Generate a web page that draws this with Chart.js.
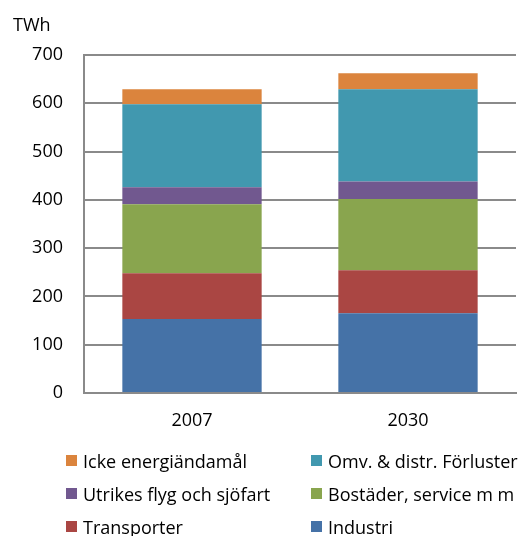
<!DOCTYPE html>
<html>
<head>
<meta charset="utf-8">
<script src="https://cdn.jsdelivr.net/npm/chart.js@4"></script>
<style>
  html, body { margin: 0; padding: 0; background: #fff; }
  body { width: 532px; height: 536px; position: relative; overflow: hidden; font-family: "Open Sans", sans-serif; color: #000; }
  #wrap { position: absolute; left: 0; top: 0; width: 532px; height: 536px; }
  #unit { position: absolute; left: 13px; top: 12px; font-size: 18px; }
  #legend { position: absolute; left: 66px; top: 448px; display: grid; grid-template-columns: 245px 230px; row-gap: 8px; font-size: 18px; }
  #legend div { display: flex; align-items: center; height: 25px; white-space: nowrap; }
  #legend span.box { display: inline-block; width: 11px; height: 11px; margin-right: 6px; }
</style>
</head>
<body>
<div id="wrap"><canvas id="myChart" width="532" height="536"></canvas></div>
<div id="unit">TWh</div>
<div id="legend"></div>
<script>
const years = ["2007", "2030"];
const industri = [153, 165];
const transporter = [95, 89];
const bostader = [143, 148];
const utrikes = [35, 36];
const omv = [172, 191];
const icke = [31, 33];
const yTicks = [0, 100, 200, 300, 400, 500, 600, 700];

const colors = {
    industri: "#4572A7",
    transporter: "#AA4643",
    bostader: "#89A54E",
    utrikes: "#71588F",
    omv: "#4198AF",
    icke: "#DB843D"
};

const gridColor = "#8a8a8a";

const ctx = document.getElementById("myChart").getContext("2d");

const datasets = [
    { label: "Industri", data: industri, backgroundColor: colors.industri },
    { label: "Transporter", data: transporter, backgroundColor: colors.transporter },
    { label: "Bostäder, service m m", data: bostader, backgroundColor: colors.bostader },
    { label: "Utrikes flyg och sjöfart", data: utrikes, backgroundColor: colors.utrikes },
    { label: "Omv. & distr. Förluster", data: omv, backgroundColor: colors.omv },
    { label: "Icke energiändamål", data: icke, backgroundColor: colors.icke }
].map(d => Object.assign(d, { barPercentage: 0.645, categoryPercentage: 1 }));

const chart = new Chart(ctx, {
    type: "bar",
    data: { labels: years, datasets: datasets },
    options: {
        responsive: false,
        animation: false,
        layout: { padding: { left: 0, right: 16, top: 55, bottom: 103 } },
        plugins: { legend: { display: false }, tooltip: { enabled: false } },
        scales: {
            x: {
                stacked: true,
                grid: { display: false, drawTicks: false },
                border: { display: true, color: gridColor, width: 2 },
                ticks: { color: "#000", font: { family: "Open Sans", size: 18 }, padding: 17 },
                afterFit: s => { s.height = 40; }
            },
            y: {
                stacked: true,
                min: 0,
                max: 700,
                afterBuildTicks: s => { s.ticks = yTicks.map(v => ({ value: v })); },
                grid: { color: gridColor, lineWidth: 2, drawTicks: false },
                border: { display: true, color: gridColor, width: 2 },
                ticks: { color: "#000", font: { family: "Open Sans", size: 18 }, padding: 21 },
                afterFit: s => { s.width = 84; }
            }
        }
    }
});

// legend in two columns, top of stack first
const order = [5, 4, 3, 2, 1, 0];
const legendEl = document.getElementById("legend");
order.forEach(i => {
    const ds = chart.data.datasets[i];
    const item = document.createElement("div");
    const box = document.createElement("span");
    box.className = "box";
    box.style.background = ds.backgroundColor;
    item.appendChild(box);
    item.appendChild(document.createTextNode(ds.label));
    legendEl.appendChild(item);
});
</script>
</body>
</html>
